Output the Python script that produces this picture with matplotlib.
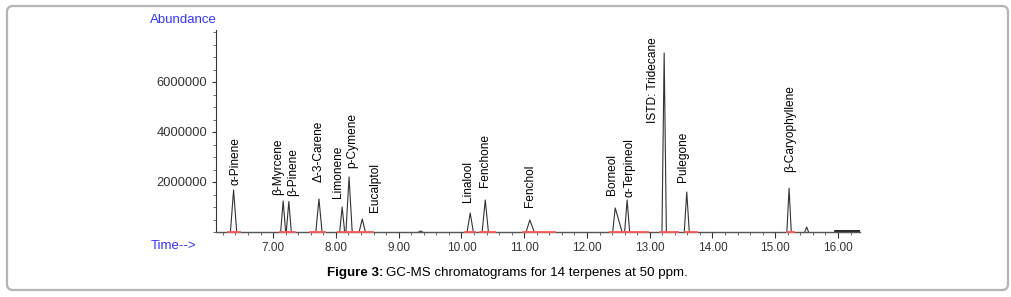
import matplotlib.pyplot as plt
from matplotlib.patches import FancyBboxPatch
from matplotlib.transforms import IdentityTransform
from matplotlib.ticker import MultipleLocator

plt.rcParams["font.family"] = ["Liberation Sans", "DejaVu Sans"]

# compound names, retention times (min) and peak heights (abundance)
names = ["α-Pinene", "β-Myrcene", "β-Pinene", "Δ-3-Carene", "Limonene", "p-Cymene",
         "Eucalptol", "Linalool", "Fenchone", "Fenchol", "Borneol", "α-Terpineol",
         "ISTD: Tridecane", "Pulegone", "β-Caryophyllene"]
times = [6.37, 7.16, 7.25, 7.73, 8.10, 8.21, 8.42, 10.14, 10.38, 11.09, 12.45, 12.64,
         13.23, 13.59, 15.22]
heights = [1680000, 1240000, 1220000, 1320000, 1000000, 2200000, 520000, 760000,
           1280000, 480000, 960000, 1280000, 7160000, 1600000, 1750000]
# peak half widths at base (left, right), minutes
left_w = [0.05, 0.04, 0.04, 0.05, 0.04, 0.05, 0.05, 0.05, 0.05, 0.06, 0.04, 0.04,
          0.035, 0.04, 0.035]
right_w = [0.05, 0.04, 0.04, 0.05, 0.04, 0.05, 0.05, 0.05, 0.05, 0.07, 0.11, 0.04,
           0.035, 0.04, 0.035]
# integration baselines (start, end), minutes
integ = [(6.28, 6.47), (7.11, 7.35), (7.59, 7.83), (8.03, 8.15), (8.18, 8.34),
         (8.35, 8.59), (10.06, 10.22), (10.30, 10.54), (10.98, 11.49), (12.37, 12.68),
         (12.68, 12.97), (13.16, 13.45), (13.56, 13.75), (15.18, 15.30)]
# small unlabelled peaks
minor_times = [9.35, 15.50]
minor_heights = [40000, 200000]

# label offsets in pixels (dx, dy above apex)
label_off = [(2, 5), (-5, 6), (4, 6), (0, 17), (-4, 9), (3, 9), (13, 7), (-2, 11),
             (0, 13), (0, 13), (-3, 13), (2, 3), (-11, -70), (-4, 10), (1, 16)]


def main():
    fig = plt.figure(figsize=(10.12, 2.97), dpi=100)
    ax = fig.add_axes([216 / 1012, 1 - 232 / 297, (860 - 216) / 1012, (232 - 30) / 297])

    # peaks
    for t, h, lw_, rw_ in zip(times + minor_times, heights + minor_heights,
                              left_w + [0.03, 0.03], right_w + [0.03, 0.03]):
        ax.plot([t - lw_, t, t + rw_], [0, h, 0], color="#333333", lw=0.8)
    # tail end of trace
    ax.plot([15.95, 16.35], [50000, 50000], color="black", lw=1.2)

    # integration baselines
    for a, b in integ:
        ax.plot([a, b], [0, 0], color="#ff5a5a", lw=1.3, zorder=4, clip_on=False)

    # labels
    for name, t, h, (dx, dy) in zip(names, times, heights, label_off):
        ax.annotate(name, xy=(t, h), xytext=(dx, dy), textcoords="offset pixels",
                    rotation=90, ha="center", va="bottom", fontsize=8.6, color="black")

    ax.set_xlim(6.09, 16.35)
    ax.set_ylim(0, 8080000)
    ax.set_yticks([2000000, 4000000, 6000000])
    ax.set_yticklabels(["2000000", "4000000", "6000000"])
    ax.yaxis.set_minor_locator(MultipleLocator(500000))
    ax.set_xticks([7, 8, 9, 10, 11, 12, 13, 14, 15, 16])
    ax.set_xticklabels(["%.2f" % v for v in range(7, 17)])
    ax.xaxis.set_minor_locator(MultipleLocator(0.2))
    ax.tick_params(axis="y", labelsize=9.3, colors="#333333", length=3, width=0.8)
    ax.tick_params(axis="x", labelsize=8.5, colors="#333333", length=4, width=0.8)
    ax.tick_params(which="minor", length=2, width=0.6, colors="#555555")
    for s in ["top", "right"]:
        ax.spines[s].set_visible(False)
    ax.spines["left"].set_color("#333333")
    ax.spines["bottom"].set_color("#555555")
    ax.spines["left"].set_linewidth(0.8)
    ax.spines["bottom"].set_linewidth(1.0)

    fig.text(150 / 1012, 1 - 20 / 297, "Abundance", color="#3333ff", fontsize=9.5,
             ha="left", va="center")
    fig.text(151 / 1012, 1 - 246 / 297, "Time-->", color="#3333ff", fontsize=9.5,
             ha="left", va="center")

    # caption
    cap_y = 1 - 273 / 297
    t1 = fig.text(327 / 1012, cap_y, "Figure 3:", fontsize=9.6, fontweight="bold",
                  ha="left", va="center")
    fig.canvas.draw()
    bb = t1.get_window_extent()
    fig.text((bb.x1 + 3) / 1012, cap_y, "GC-MS chromatograms for 14 terpenes at 50 ppm.",
             fontsize=9.6, ha="left", va="center")

    # rounded frame
    frame = FancyBboxPatch((7, 7), 1001, 284, boxstyle="round,pad=0,rounding_size=6",
                           transform=IdentityTransform(), fill=False,
                           edgecolor="#b4b4b4", lw=1.6)
    fig.add_artist(frame)

    fig.savefig("out.png", dpi=100)


if __name__ == "__main__":
    main()
